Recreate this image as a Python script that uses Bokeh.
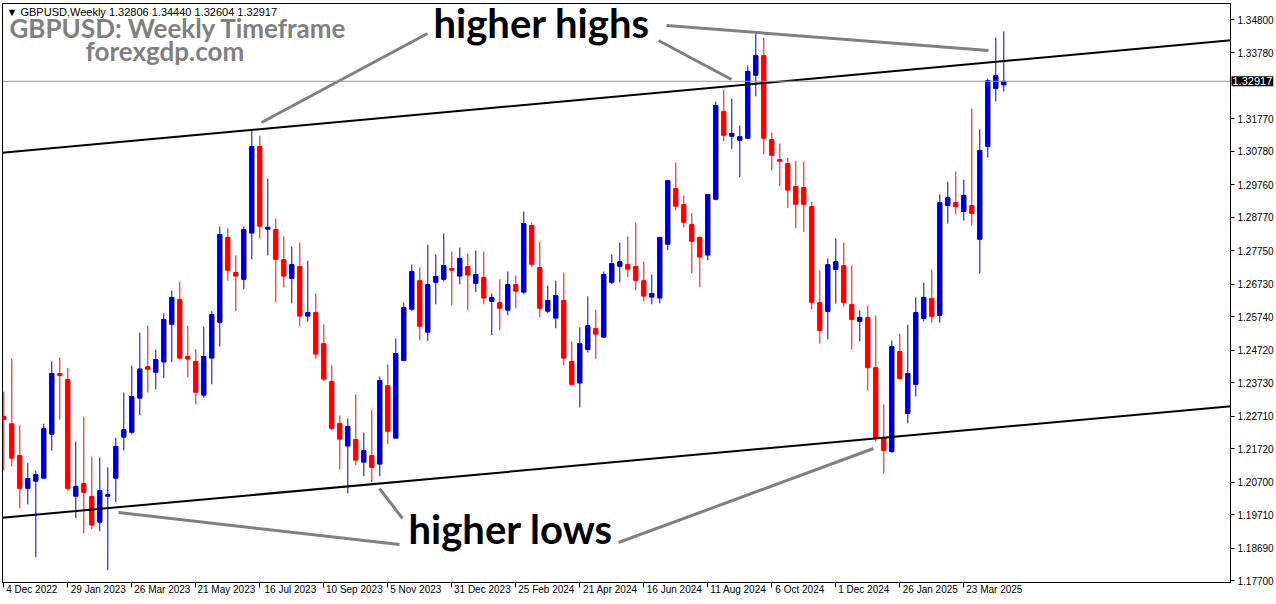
import pandas as pd
from bokeh.plotting import figure
from bokeh.models import (FixedTicker, Label, Range1d, Span, PrintfTickFormatter,
                          ColumnDataSource, LinearAxis)
from bokeh.embed import file_html
from bokeh.resources import INLINE

# ---------------- data (weekly GBPUSD candles) ----------------
opens = [1.2270, 1.2248, 1.2151, 1.2051, 1.2073, 1.2082, 1.2216, 1.2401, 1.2383, 1.2027,
         1.2066, 1.2026, 1.1948, 1.2027, 1.2082, 1.2207, 1.2222, 1.2326, 1.2422, 1.2405,
         1.2436, 1.2551, 1.2627, 1.2453, 1.2438, 1.2335, 1.2448, 1.2557, 1.2816, 1.2709,
         1.2688, 1.2829, 1.3093, 1.2841, 1.2840, 1.2748, 1.2691, 1.2727, 1.2576, 1.2587,
         1.2492, 1.2377, 1.2249, 1.2180, 1.2200, 1.2131, 1.2151, 1.2125, 1.2364, 1.2204,
         1.2441, 1.2597, 1.2684, 1.2527, 1.2679, 1.2688, 1.2721, 1.2698, 1.2727, 1.2676,
         1.2694, 1.2621, 1.2617, 1.2594, 1.2672, 1.2649, 1.2852, 1.2724, 1.2591, 1.2570,
         1.2624, 1.2438, 1.2372, 1.2474, 1.2538, 1.2512, 1.2679, 1.2728, 1.2733, 1.2727,
         1.2684, 1.2634, 1.2631, 1.2795, 1.2965, 1.2916, 1.2855, 1.2816, 1.2762, 1.2932,
         1.3200, 1.3124, 1.3112, 1.3118, 1.3310, 1.3370, 1.3114, 1.3053, 1.3041, 1.2971,
         1.2968, 1.2910, 1.2617, 1.2590, 1.2718, 1.2730, 1.2611, 1.2560, 1.2572, 1.2419,
         1.2206, 1.2163, 1.2468, 1.2279, 1.2368, 1.2569, 1.2630, 1.2578, 1.2913, 1.2922,
         1.2895, 1.2913, 1.2810, 1.3093, 1.3270, 1.32806]
highs = [1.2346, 1.2447, 1.2243, 1.2128, 1.2105, 1.2248, 1.2438, 1.2450, 1.2418, 1.2194,
         1.2270, 1.2148, 1.2145, 1.2115, 1.2205, 1.2343, 1.2425, 1.2526, 1.2547, 1.2474,
         1.2585, 1.2654, 1.2681, 1.2547, 1.2475, 1.2544, 1.2591, 1.2849, 1.2844, 1.2761,
         1.2849, 1.3142, 1.3126, 1.2995, 1.2873, 1.2819, 1.2788, 1.2800, 1.2745, 1.2645,
         1.2550, 1.2426, 1.2273, 1.2264, 1.2337, 1.2221, 1.2291, 1.2392, 1.2429, 1.2508,
         1.2617, 1.2733, 1.2724, 1.2794, 1.2764, 1.2828, 1.2773, 1.2785, 1.2767, 1.2776,
         1.2773, 1.2645, 1.2688, 1.2712, 1.2700, 1.2895, 1.2861, 1.2803, 1.2669, 1.2684,
         1.2709, 1.2499, 1.2542, 1.2636, 1.2596, 1.2712, 1.2764, 1.2800, 1.2819, 1.2861,
         1.2742, 1.2703, 1.2816, 1.2991, 1.3044, 1.2944, 1.2890, 1.2819, 1.2947, 1.3230,
         1.3267, 1.3239, 1.3157, 1.3340, 1.3437, 1.3425, 1.3136, 1.3102, 1.3059, 1.3049,
         1.3047, 1.2925, 1.2715, 1.2752, 1.2813, 1.2800, 1.2730, 1.2593, 1.2608, 1.2578,
         1.2307, 1.2502, 1.2523, 1.2550, 1.2633, 1.2678, 1.2718, 1.2947, 1.2986, 1.3017,
         1.2992, 1.3209, 1.3145, 1.3300, 1.3425, 1.34440]
lows = [1.2105, 1.2118, 1.1990, 1.2002, 1.1841, 1.2082, 1.2166, 1.2261, 1.2044, 1.1960,
        1.1914, 1.1927, 1.1920, 1.1802, 1.2009, 1.2167, 1.2216, 1.2274, 1.2343, 1.2353,
        1.2387, 1.2436, 1.2444, 1.2390, 1.2307, 1.2327, 1.2368, 1.2483, 1.2684, 1.2591,
        1.2658, 1.2749, 1.2813, 1.2761, 1.2618, 1.2664, 1.2615, 1.2545, 1.2560, 1.2445,
        1.2378, 1.2228, 1.2109, 1.2036, 1.2122, 1.2088, 1.2070, 1.2088, 1.2186, 1.2204,
        1.2439, 1.2591, 1.2503, 1.2500, 1.2612, 1.2682, 1.2609, 1.2673, 1.2594, 1.2649,
        1.2612, 1.2518, 1.2533, 1.2579, 1.2600, 1.2643, 1.2725, 1.2573, 1.2585, 1.2539,
        1.2426, 1.2365, 1.2298, 1.2465, 1.2445, 1.2509, 1.2673, 1.2679, 1.2695, 1.2655,
        1.2621, 1.2612, 1.2615, 1.2777, 1.2899, 1.2847, 1.2707, 1.2664, 1.2746, 1.2929,
        1.3109, 1.3085, 1.2999, 1.3115, 1.3246, 1.3069, 1.3021, 1.2972, 1.2905, 1.2844,
        1.2832, 1.2597, 1.2492, 1.2505, 1.2614, 1.2605, 1.2474, 1.2499, 1.2349, 1.2194,
        1.2096, 1.2160, 1.2383, 1.2249, 1.2331, 1.2560, 1.2556, 1.2556, 1.2858, 1.2886,
        1.2867, 1.2852, 1.2706, 1.3059, 1.3230, 1.32604]
closes = [1.2261, 1.2143, 1.2051, 1.2081, 1.2093, 1.2233, 1.2401, 1.2395, 1.2051, 1.2057,
          1.2039, 1.1939, 1.2044, 1.2032, 1.2179, 1.2230, 1.2331, 1.2415, 1.2414, 1.2444,
          1.2566, 1.2633, 1.2448, 1.2445, 1.2344, 1.2453, 1.2581, 1.2825, 1.2716, 1.2698,
          1.2840, 1.3093, 1.2850, 1.2847, 1.2749, 1.2698, 1.2733, 1.2576, 1.2587, 1.2460,
          1.2384, 1.2234, 1.2201, 1.2240, 1.2137, 1.2166, 1.2115, 1.2380, 1.2225, 1.2462,
          1.2602, 1.2712, 1.2545, 1.2672, 1.2697, 1.2730, 1.2716, 1.2752, 1.2701, 1.2703,
          1.2631, 1.2633, 1.2600, 1.2672, 1.2652, 1.2858, 1.2734, 1.2600, 1.2624, 1.2639,
          1.2448, 1.2368, 1.2492, 1.2547, 1.2521, 1.2703, 1.2736, 1.2742, 1.2719, 1.2685,
          1.2637, 1.2645, 1.2816, 1.2989, 1.2911, 1.2862, 1.2804, 1.2756, 1.2947, 1.3218,
          1.3127, 1.3133, 1.3123, 1.3322, 1.3370, 1.3118, 1.3066, 1.3048, 1.2960, 1.2917,
          1.2917, 1.2618, 1.2532, 1.2733, 1.2742, 1.2617, 1.2566, 1.2572, 1.2419, 1.2203,
          1.2166, 1.2483, 1.2386, 1.2401, 1.2587, 1.2633, 1.2575, 1.2922, 1.2937, 1.2910,
          1.2944, 1.2889, 1.3081, 1.3294, 1.3309, 1.32917]

x_tick_labels = ["4 Dec 2022", "29 Jan 2023", "26 Mar 2023", "21 May 2023", "16 Jul 2023",
                 "10 Sep 2023", "5 Nov 2023", "31 Dec 2023", "25 Feb 2024", "21 Apr 2024",
                 "16 Jun 2024", "11 Aug 2024", "6 Oct 2024", "1 Dec 2024", "26 Jan 2025",
                 "23 Mar 2025"]
y_ticks = [1.34800, 1.33780, 1.31770, 1.30780, 1.29760, 1.28770, 1.27750, 1.26730,
           1.25740, 1.24720, 1.23730, 1.22710, 1.21720, 1.20700, 1.19710, 1.18690, 1.17700]
last_price = 1.32917

# channel lines (candle index, price)
upper_x = [-1, 155]
upper_y = [1.30722, 1.34203]
lower_x = [-1, 155]
lower_y = [1.19598, 1.23048]

# annotation pointer lines (candle index, price)
pointer_xs = [[52.96, 32.21], [81.84, 90.96], [82.84, 123.09],
              [14.34, 49.46], [46.96, 49.84], [76.84, 108.71]]
pointer_ys = [[1.34373, 1.31661], [1.34160, 1.32971], [1.34617, 1.33855],
              [1.19774, 1.18799], [1.20506, 1.19591], [1.18860, 1.21725]]

# ---------------- build ----------------
n = len(opens)
dates = pd.date_range("2022-12-04", periods=n, freq="7D")
idx = list(range(n))
BLUE, RED = "#0000cc", "#ff0000"
colors = [BLUE if c >= o else RED for o, c in zip(opens, closes)]
src = ColumnDataSource(dict(
    x=idx, date=dates, open=opens, high=highs, low=lows, close=closes,
    top=[max(o, c) for o, c in zip(opens, closes)],
    bottom=[min(o, c) for o, c in zip(opens, closes)],
    color=colors))

PX = 8.0                      # pixels per weekly candle
FW, FH = 1228, 579
X0 = -1.3 / PX
p = figure(frame_width=FW, frame_height=FH,
           x_range=Range1d(X0, X0 + FW / PX),
           y_range=Range1d(1.17641, 1.35288),
           y_axis_location="right", output_backend="svg", toolbar_location=None,
           min_border_left=2, min_border_top=3, min_border_right=0, min_border_bottom=0)
p.background_fill_color = "white"
p.border_fill_color = "white"
p.outline_line_color = "black"
p.outline_line_width = 1
p.grid.visible = False

# price axis (right)
p.yaxis.ticker = FixedTicker(ticks=y_ticks)
p.yaxis.formatter = PrintfTickFormatter(format="%.5f")
p.yaxis.major_label_text_font = "Liberation Sans"
p.yaxis.major_label_text_font_size = "10px"
p.yaxis.major_label_text_color = "black"
p.yaxis.major_tick_in = 0
p.yaxis.major_tick_out = 4
p.yaxis.minor_tick_line_color = None
p.yaxis.major_label_standoff = 3
p.yaxis.axis_line_color = "black"

# time axis: tick marks at the candles, labels starting just right of the tick
xt = list(range(0, 8 * len(x_tick_labels), 8))
p.xaxis.ticker = FixedTicker(ticks=xt)
p.xaxis.major_label_overrides = {t: "" for t in xt}
p.xaxis.major_label_text_font_size = "1px"
p.xaxis.major_label_standoff = 0
p.xaxis.major_tick_in = 0
p.xaxis.major_tick_out = 5
p.xaxis.minor_tick_line_color = None
p.xaxis.axis_line_color = "black"

shifted = [t + (2.5 + len(lab) * 5.1 / 2.0) / PX for t, lab in zip(xt, x_tick_labels)]
lab_axis = LinearAxis(ticker=FixedTicker(ticks=shifted),
                      major_label_overrides={s: lab for s, lab in zip(shifted, x_tick_labels)},
                      major_tick_line_color=None, minor_tick_line_color=None,
                      major_tick_out=0, major_tick_in=0,
                      axis_line_color=None, major_label_standoff=-4,
                      major_label_text_font="'Liberation Sans Narrow', 'Liberation Sans'",
                      major_label_text_font_size="10px", major_label_text_color="black")
p.add_layout(lab_axis, "below")

# candles
p.segment(x0="x", y0="low", x1="x", y1="high", color="color", line_width=1, source=src)
p.vbar(x="x", width=0.55, top="top", bottom="bottom", fill_color="color",
       line_color="color", line_width=1, source=src)

# channel lines
p.line(upper_x, upper_y, line_color="black", line_width=2)
p.line(lower_x, lower_y, line_color="black", line_width=2)

# current price line
p.add_layout(Span(location=last_price, dimension="width", line_color="#8a96a3", line_width=1))

# pointer lines
p.multi_line(pointer_xs, pointer_ys, line_color="#808080", line_width=3)

# texts
p.add_layout(Label(x=53.71, y=1.33947, text="higher highs", text_font="Lato",
                   text_font_style="bold", text_font_size="40px", text_color="black"))
p.add_layout(Label(x=50.59, y=1.18525, text="higher lows", text_font="Lato",
                   text_font_style="bold", text_font_size="40px", text_color="black"))
p.add_layout(Label(x=0.71, y=1.34059, text="GBPUSD: Weekly Timeframe", text_font="Lato",
                   text_font_style="bold", text_font_size="26px", text_color="#808080"))
p.add_layout(Label(x=10.21, y=1.33346, text="forexgdp.com", text_font="Lato",
                   text_font_style="bold", text_font_size="26px", text_color="#808080"))
p.add_layout(Label(x=0.34, y=1.35044, text="\u25bc GBPUSD,Weekly  1.32806 1.34440 1.32604 1.32917",
                   text_font="'Liberation Sans', 'DejaVu Sans'", text_font_size="11px",
                   text_color="black", text_baseline="middle"))

# last price box on the price axis (side-panel annotation, so it is not clipped to the frame)
p.add_layout(Label(x=2 + FW + 1, x_units="canvas", y=last_price, text=f"{last_price:.5f}",
                   text_font="Liberation Sans", text_font_size="11px", text_color="white",
                   background_fill_color="black", text_baseline="middle", padding=1),
             "right")

open("out.html", "w").write(file_html(p, INLINE))
